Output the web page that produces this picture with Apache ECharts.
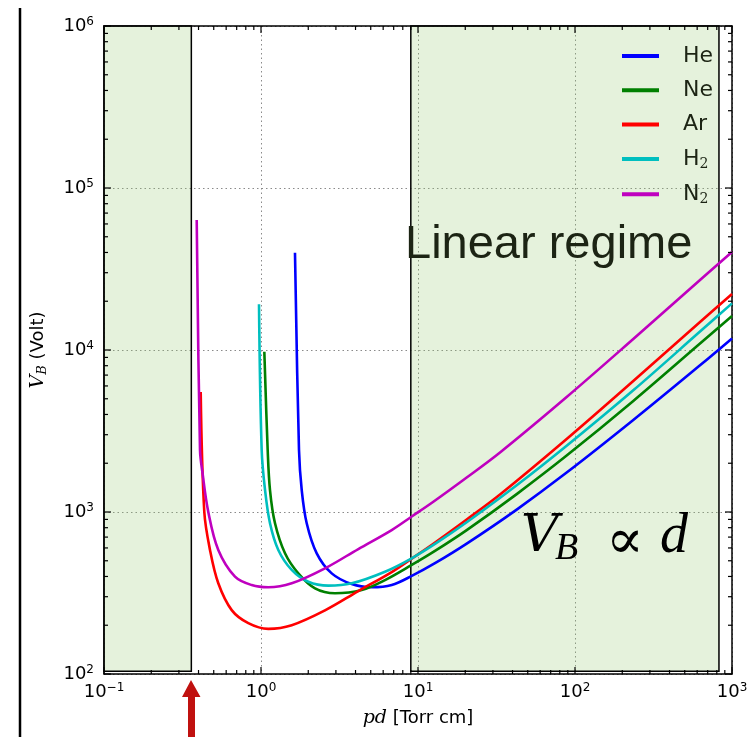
<!DOCTYPE html>
<html>
<head>
<meta charset="utf-8">
<title>Paschen curves</title>
<script src="https://cdn.jsdelivr.net/npm/echarts@6/dist/echarts.min.js"></script>
<style>
  html, body { margin: 0; padding: 0; background: #fff; }
  #chart { width: 754px; height: 737px; }
</style>
</head>
<body>
<div id="chart"></div>
<script>
// pd [Torr cm] and breakdown voltage [V]
const heX = [1.646, 1.746, 1.817, 1.955, 2.264, 2.821, 3.783, 5.072, 6.801, 9.12, 12.83, 20.43, 42.53, 88.5, 235.1, 625.6, 1000];
const heY = [39870, 2414, 1367, 852, 556, 418, 359, 343, 354, 403, 483, 638, 1035, 1751, 3698, 8047, 11790];

const neX = [1.050, 1.103, 1.141, 1.228, 1.422, 1.728, 2.208, 2.961, 4.379, 6.164, 9.12, 12.83, 20.43, 42.53, 88.5, 235.1, 625.6, 1000];
const neY = [9761, 2414, 1367, 852, 556, 418, 338, 315, 330, 380, 471, 575, 773, 1290, 2229, 4844, 10955, 16210];

const arX = [0.413, 0.4354, 0.4733, 0.5346, 0.6507, 0.8301, 1.113, 1.569, 2.556, 4.167, 6.801, 9.12, 12.46, 20.43, 33.29, 88.5, 235.1, 625.6, 1000];
const arY = [5504, 1000, 583, 363, 248, 206, 190, 200, 247, 325, 426, 516, 635, 899, 1282, 2822, 6436, 14880, 22160];

const h2X = [0.9711, 1.010, 1.061, 1.141, 1.289, 1.569, 2.001, 2.684, 3.783, 6.164, 9.12, 12.83, 20.43, 42.53, 88.5, 235.1, 625.6, 1000];
const h2Y = [19150, 2414, 1367, 852, 583, 439, 371, 351, 363, 428, 518, 635, 864, 1461, 2563, 5639, 12990, 19400];

const n2X = [0.3895, 0.4088, 0.4241, 0.4617, 0.5346, 0.6829, 0.8726, 1.113, 1.569, 2.556, 4.167, 6.801, 9.12, 12.46, 20.43, 33.29, 88.5, 235.1, 625.6, 1000];
const n2Y = [63450, 2414, 1741, 1000, 583, 399, 354, 343, 363, 449, 591, 774, 938, 1153, 1633, 2330, 5126, 11690, 27040, 40260];

const gasNames = ['He', 'Ne', 'Ar', 'H2', 'N2'];
const gasColors = ['#0000ff', '#008000', '#ff0000', '#00bfbf', '#bf00bf'];

// shaded regions (pd ranges) and their vertical span
const lowPdBox = [0.092, 0.36];
const linearBox = [9.0, 826];
const boxV = [104, 1e6];

// axis ranges, decade ticks and minor tick steps
const xRange = [0.1, 1000];
const yRange = [100, 1e6];
const xDecades = [0.1, 1, 10, 100, 1000];
const yDecades = [100, 1e3, 1e4, 1e5, 1e6];
const minorSteps = [2, 3, 4, 5, 6, 7, 8, 9];

function minorValues(range) {
  const out = [];
  for (let d = range[0]; d < range[1]; d *= 10) {
    minorSteps.forEach(s => out.push(s * d));
  }
  return out;
}

const chart = echarts.init(document.getElementById('chart'));

const supRich = {
  sup: { fontSize: 12, padding: [0, 0, 9, 0], color: '#000' }
};
const tickFmt = v => '10{sup|' + String(Math.round(Math.log10(v))).replace('-', '\u2212') + '}';

const gridDots = { show: true, lineStyle: { color: '#8a8a8a', width: 1, type: [1.5, 3] } };
const spine = { show: true, onZero: false, lineStyle: { color: '#000', width: 1.5 } };

const xs = [heX, neX, arX, h2X, n2X];
const ys = [heY, neY, arY, h2Y, n2Y];

const lineSeries = gasNames.map((name, i) => ({
  name: name,
  type: 'line',
  data: xs[i].map((x, j) => [x, ys[i][j]]),
  showSymbol: false,
  smooth: 0.35,
  lineStyle: { width: 2.6, color: gasColors[i] },
  itemStyle: { color: gasColors[i] },
  z: 4
}));

const boxStyle = { color: 'rgba(152,204,115,0.25)', borderColor: '#000', borderWidth: 1.5 };

const annotations = [
  { type: 'line', shape: { x1: 20, y1: 8, x2: 20, y2: 737 }, style: { stroke: '#000', lineWidth: 2.5 } },
  {
    type: 'polygon',
    shape: { points: [[191, 680], [200.5, 697], [195, 697], [195, 737], [188, 737], [188, 697], [182, 697]] },
    style: { fill: '#c0110f' }
  },
  {
    type: 'text', left: 405, top: 222, z: 10,
    style: { text: 'Linear regime', font: '47px "Liberation Sans"', fill: '#1c2414' }
  },
  { type: 'text', x: 521, y: 537, z: 10, style: { text: 'V', font: 'italic 52px "DejaVu Serif"', fill: '#000', verticalAlign: 'middle' } },
  { type: 'text', x: 555, y: 549, z: 10, style: { text: 'B', font: 'italic 38px "Liberation Serif"', fill: '#000', verticalAlign: 'middle' } },
  { type: 'text', x: 625, y: 543, z: 10, style: { text: '\u221D', font: '56px "DejaVu Serif"', fill: '#000', align: 'center', verticalAlign: 'middle' } },
  { type: 'text', x: 660, y: 537, z: 10, style: { text: 'd', font: 'italic 56px "Liberation Serif"', fill: '#000', verticalAlign: 'middle' } }
];

chart.setOption({
  animation: false,
  textStyle: { fontFamily: 'DejaVu Sans' },
  grid: { left: 104, right: 22, top: 26, bottom: 63, containLabel: false },
  xAxis: [
    {
      type: 'log', position: 'bottom', min: xRange[0], max: xRange[1],
      axisLine: spine, axisTick: { show: false }, splitLine: gridDots,
      axisLabel: { formatter: tickFmt, fontSize: 18, color: '#000', fontFamily: 'DejaVu Sans', rich: supRich },
      name: '{i|pd} [Torr cm]',
      nameLocation: 'middle',
      nameGap: 35,
      nameTextStyle: {
        fontSize: 18, color: '#000', fontFamily: 'DejaVu Sans',
        rich: { i: { fontSize: 19, fontStyle: 'italic', fontFamily: 'DejaVu Serif', color: '#000' } }
      }
    },
    {
      type: 'log', position: 'top', min: xRange[0], max: xRange[1],
      axisLine: spine, axisTick: { show: false }, axisLabel: { show: false }, splitLine: { show: false }
    }
  ],
  yAxis: [
    {
      type: 'log', position: 'left', min: yRange[0], max: yRange[1],
      axisLine: spine, axisTick: { show: false }, splitLine: gridDots,
      axisLabel: { formatter: tickFmt, fontSize: 18, color: '#000', fontFamily: 'DejaVu Sans', rich: supRich, margin: 10 },
      name: '{v|V}{b|B} (Volt)',
      nameLocation: 'middle',
      nameGap: 55,
      nameTextStyle: {
        fontSize: 18, color: '#000', fontFamily: 'DejaVu Sans',
        rich: {
          v: { fontSize: 19, fontStyle: 'italic', fontFamily: 'DejaVu Serif', color: '#000' },
          b: { fontSize: 13, fontStyle: 'italic', fontFamily: 'DejaVu Serif', color: '#000', padding: [8, 0, 0, 0] }
        }
      }
    },
    {
      type: 'log', position: 'right', min: yRange[0], max: yRange[1],
      axisLine: spine, axisTick: { show: false }, axisLabel: { show: false }, splitLine: { show: false }
    }
  ],
  legend: {
    data: gasNames,
    orient: 'vertical',
    left: 622,
    top: 45,
    padding: 0,
    icon: 'rect',
    itemWidth: 37,
    itemHeight: 4,
    itemGap: 12.3,
    formatter: n => n.length === 2 && n[1] === '2' ? n[0] + '{s|2}' : n,
    textStyle: {
      fontSize: 22, lineHeight: 22, color: '#1c2414', fontFamily: 'DejaVu Sans',
      padding: [0, 0, 0, 19],
      rich: { s: { fontSize: 14, fontFamily: 'DejaVu Serif', color: '#1c2414', padding: [10, 0, 0, 0] } }
    }
  },
  series: [
    {
      name: 'regions',
      type: 'line',
      data: [],
      clip: false,
      silent: true,
      z: 1,
      markArea: {
        silent: true,
        itemStyle: boxStyle,
        data: [
          [{ coord: [lowPdBox[0], boxV[0]] }, { coord: [lowPdBox[1], boxV[1]] }],
          [{ coord: [linearBox[0], boxV[0]] }, { coord: [linearBox[1], boxV[1]] }]
        ]
      }
    }
  ].concat(lineSeries)
});

// inward ticks on all four spines, placed through the curves' coordinate system
const ticks = [];
const toPx = p => chart.convertToPixel({ seriesIndex: 1 }, p);
function tick(a, dx, dy) {
  ticks.push({
    type: 'line', z: 20, silent: true,
    shape: { x1: a[0], y1: a[1], x2: a[0] + dx, y2: a[1] + dy },
    style: { stroke: '#000', lineWidth: 1.2 }
  });
}
function xTicks(values, len) {
  values.forEach(v => {
    tick(toPx([v, yRange[0]]), 0, -len);
    tick(toPx([v, yRange[1]]), 0, len);
  });
}
function yTicks(values, len) {
  values.forEach(v => {
    tick(toPx([xRange[0], v]), len, 0);
    tick(toPx([xRange[1], v]), -len, 0);
  });
}
xTicks(xDecades, 7);
yTicks(yDecades, 7);
xTicks(minorValues(xRange), 4);
yTicks(minorValues(yRange), 4);

chart.setOption({ graphic: annotations.concat(ticks) });
</script>
</body>
</html>
